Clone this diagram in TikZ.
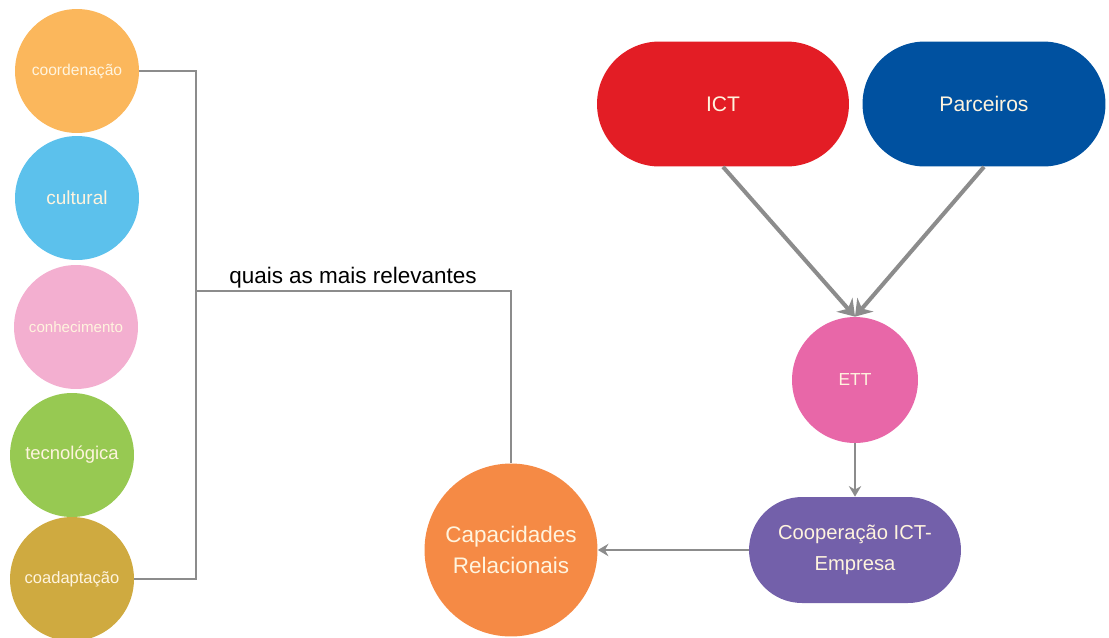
\documentclass[tikz,border=0pt]{standalone}
\usepackage{fontspec}
\setmainfont{Liberation Sans}
\usetikzlibrary{arrows.meta,shapes.misc}

\definecolor{cOrange}{HTML}{FBB75C}
\definecolor{cBlue}{HTML}{5CC1EC}
\definecolor{cPink}{HTML}{F3AFD0}
\definecolor{cGreen}{HTML}{97C952}
\definecolor{cGold}{HTML}{CFAA40}
\definecolor{cRed}{HTML}{E31D25}
\definecolor{cNavy}{HTML}{0051A0}
\definecolor{cMagenta}{HTML}{E867A8}
\definecolor{cPurple}{HTML}{7360AA}
\definecolor{cCap}{HTML}{F58A45}
\definecolor{cLine}{HTML}{8C8C8C}
\definecolor{cText}{HTML}{FFF4DE}

\tikzset{
  ball/.style={circle, fill=#1, text=cText, minimum size=2.48cm, inner sep=0pt, align=center},
  pill/.style={rounded rectangle, fill=#1, text=cText, inner sep=0pt, align=center},
  link/.style={draw=cLine, line width=1.2pt},
  flow/.style={draw=cLine, line width=2.3pt, -{Stealth[length=9pt,width=12pt]}},
}

\begin{document}
\begin{tikzpicture}[x=0.02cm, y=-0.02cm]
\useasboundingbox (0,0) rectangle (1109,637);

% Tipos de capacidade
\node[ball=cOrange, font=\fontsize{8.9}{10}\selectfont] (coord) at (77,71) {coordenação};
\node[ball=cBlue, font=\fontsize{10.8}{12}\selectfont] (cult) at (77,198) {cultural};
\node[ball=cPink, font=\fontsize{8.6}{10}\selectfont] (conh) at (76,327) {conhecimento};
\node[ball=cGreen, font=\fontsize{10.5}{12}\selectfont] (tecn) at (72,455) {tecnológica};
\node[ball=cGold, font=\fontsize{9.4}{11}\selectfont] (coad) at (72,579) {coadaptação};

% Origem
\node[pill=cRed, minimum width=5.04cm, minimum height=2.5cm, font=\fontsize{12}{14}\selectfont] (ict) at (723,104) {ICT};
\node[pill=cNavy, minimum width=4.86cm, minimum height=2.5cm, font=\fontsize{12}{14}\selectfont] (parc) at (984,104) {Parceiros};

% ETT
\node[ball=cMagenta, minimum size=2.52cm, font=\fontsize{9.9}{12}\selectfont] (ett) at (855,380) {ETT};

% Cooperacao
\node[pill=cPurple, minimum width=4.24cm, minimum height=2.12cm, font=\fontsize{11.5}{17.5}\selectfont] (coop) at (855,550) {Cooperação ICT-\\Empresa};

% Capacidades
\node[ball=cCap, minimum size=3.46cm, font=\fontsize{12.8}{18}\selectfont] (cap) at (511,550) {Capacidades\\Relacionais};

\coordinate (brk) at (196,291);
\node[anchor=base, font=\fontsize{12.8}{15}\selectfont] (quest) at (353,283) {quais as mais relevantes};

\draw[link] (coord.east) -| (brk) |- (coad.east);
\draw[link] (brk) -| (cap.north);

\draw[flow] (ict.south) -- (ett.north);
\draw[flow] (parc.south) -- (ett.north);
\draw[link, -{Stealth[length=6pt,width=7pt]}] (ett.south) -- (coop.north);
\draw[link, -{Stealth[length=6pt,width=7pt]}] (coop.west) -- (cap.east);

\end{tikzpicture}
\end{document}
